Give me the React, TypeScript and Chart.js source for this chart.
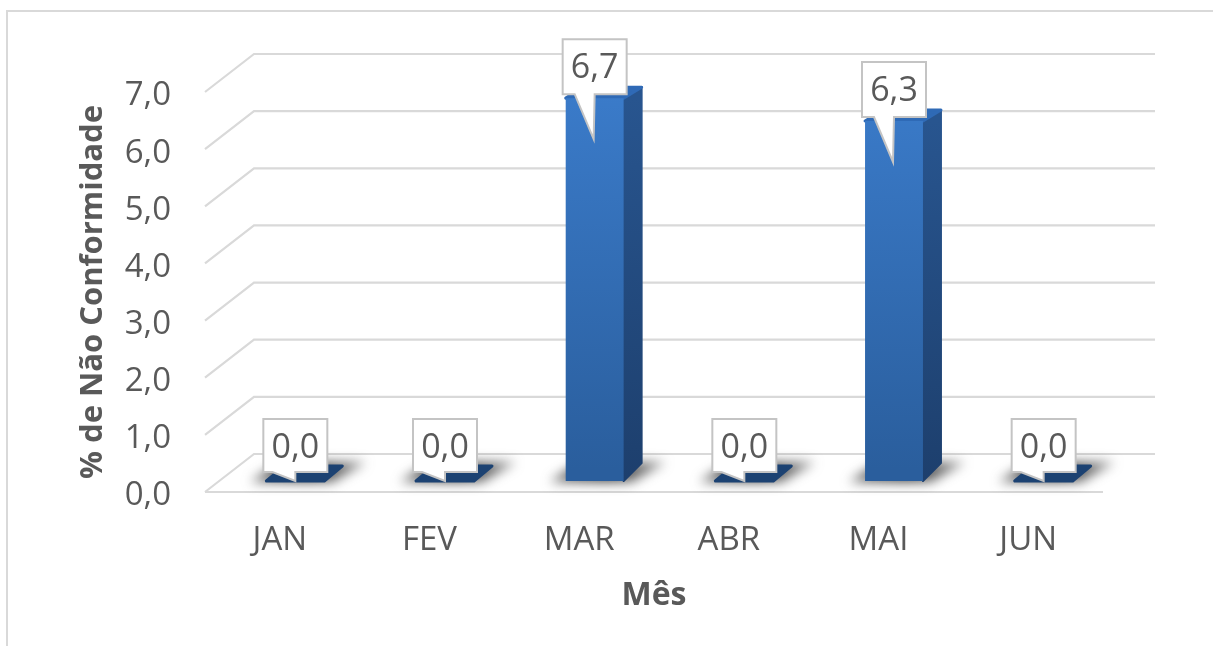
import React, { useEffect, useRef } from "react";
import { Chart, registerables } from "chart.js";

Chart.register(...registerables);

const categories = ["JAN", "FEV", "MAR", "ABR", "MAI", "JUN"];
const values = [0.0, 0.0, 6.7, 0.0, 6.3, 0.0];
const yTitle = "% de Não Conformidade";
const xTitle = "Mês";

const FONT = "'Open Sans', 'Noto Sans', sans-serif";
const TEXT = "#595959";
const GRID = "#d9d9d9";
const fmt = (v: number) => v.toFixed(1).replace(".", ",");

const SHIFT_X = 15.5;
const SHIFT_Y = -11;
const DEPTH_X = 18;

const poly = (ctx: CanvasRenderingContext2D, pts: number[][]) => {
  ctx.beginPath();
  pts.forEach(([x, y], i) => (i ? ctx.lineTo(x, y) : ctx.moveTo(x, y)));
  ctx.closePath();
};

const frame3d = {
  id: "frame3d",
  beforeDatasetsDraw(chart: any) {
    const { ctx, scales } = chart;
    const y = scales.y;
    const left = scales.x.left;
    const right = scales.x.right;
    ctx.save();
    ctx.strokeStyle = GRID;
    ctx.lineWidth = 2;
    ctx.beginPath();
    ctx.moveTo(7, 646);
    ctx.lineTo(7, 11);
    ctx.lineTo(1213, 11);
    ctx.stroke();
    ctx.lineWidth = 2.2;
    y.ticks.forEach((t: any) => {
      const py = y.getPixelForValue(t.value);
      ctx.beginPath();
      ctx.moveTo(left, py);
      ctx.lineTo(left + 49, py - 38);
      ctx.lineTo(right + 52, py - 38);
      ctx.stroke();
    });
    const y0 = y.getPixelForValue(0);
    ctx.beginPath();
    ctx.moveTo(left, y0);
    ctx.lineTo(right, y0);
    ctx.stroke();
    ctx.restore();
  },
};

const bars3d = {
  id: "bars3d",
  beforeDatasetDraw(chart: any) {
    const { ctx } = chart;
    const meta = chart.getDatasetMeta(0);
    ctx.save();
    meta.data.forEach((bar: any, i: number) => {
      const half = bar.width / 2;
      const l = bar.x + SHIFT_X - half;
      const r = bar.x + SHIFT_X + half;
      const base = bar.base + SHIFT_Y;
      const top = bar.y + SHIFT_Y;
      const flat = values[i] === 0;
      const dyTop = flat ? -15 : -11;
      const dyBase = flat ? -15 : -18;

      ctx.save();
      ctx.filter = "blur(6px)";
      const sh = ctx.createLinearGradient(l - 20, 0, r + 44, 0);
      sh.addColorStop(0, "rgba(70,70,70,0.75)");
      sh.addColorStop(0.5, "rgba(40,40,40,0.9)");
      sh.addColorStop(1, "rgba(90,90,90,0.65)");
      ctx.fillStyle = sh;
      poly(ctx, [
        [l - 16, base + 1],
        [r + 8, base + 1],
        [r + 42, base - 19],
        [l + 14, base - 19],
      ]);
      ctx.fill();
      ctx.restore();

      ctx.lineJoin = "round";
      if (!flat) {
        const side = ctx.createLinearGradient(0, top, 0, base);
        side.addColorStop(0, "#28558f");
        side.addColorStop(1, "#1d3f6d");
        ctx.fillStyle = side;
        ctx.strokeStyle = side;
        ctx.lineWidth = 2;
        poly(ctx, [
          [r, base],
          [r, top],
          [r + DEPTH_X, top + dyTop],
          [r + DEPTH_X, base + dyBase],
        ]);
        ctx.fill();
        ctx.stroke();
      }
      ctx.fillStyle = flat ? "#1c4272" : "#2f6ab6";
      ctx.strokeStyle = ctx.fillStyle;
      ctx.lineWidth = 3;
      poly(ctx, [
        [l, top],
        [r, top],
        [r + DEPTH_X, top + dyTop],
        [l + DEPTH_X, top + dyTop],
      ]);
      ctx.fill();
      ctx.stroke();
    });
    ctx.restore();
    ctx.save();
    ctx.translate(SHIFT_X, SHIFT_Y);
  },
  afterDatasetDraw(chart: any) {
    chart.ctx.restore();
  },
  afterDatasetsDraw(chart: any) {
    const { ctx } = chart;
    const meta = chart.getDatasetMeta(0);
    ctx.save();
    meta.data.forEach((bar: any, i: number) => {
      const cx = bar.x + SHIFT_X;
      const top = bar.y + SHIFT_Y;
      const flat = values[i] === 0;
      const bl = cx - 32;
      const br = cx + 32;
      const bt = top - (flat ? 62 : 59);
      const bb = bt + (flat ? 53 : 55);
      const tipY = flat ? top : top + 41;
      ctx.fillStyle = "#ffffff";
      ctx.strokeStyle = "#c4c4c4";
      ctx.lineWidth = 2;
      ctx.lineJoin = "miter";
      poly(ctx, [
        [bl, bt],
        [br, bt],
        [br, bb],
        [cx, bb],
        [cx + (flat ? 0 : -1), tipY],
        [cx - (flat ? 23 : 20), bb],
        [bl, bb],
      ]);
      ctx.fill();
      ctx.stroke();
      ctx.fillStyle = TEXT;
      ctx.font = `34px ${FONT}`;
      ctx.textAlign = "center";
      ctx.textBaseline = "middle";
      ctx.fillText(fmt(values[i]), cx, bt + 29);
    });
    ctx.restore();
  },
};

export default function App() {
  const ref = useRef<HTMLCanvasElement>(null);
  useEffect(() => {
    const chart = new Chart(ref.current!, {
      type: "bar",
      data: {
        labels: categories,
        datasets: [
          {
            data: values,
            clip: false,
            categoryPercentage: 1,
            barPercentage: 0.387,
            borderWidth: 0,
            backgroundColor: (c: any) => {
              const g = c.chart.ctx.createLinearGradient(0, 90, 0, 480);
              g.addColorStop(0, "#3b7ccb");
              g.addColorStop(1, "#2a5e9d");
              return g;
            },
          } as any,
        ],
      },
      options: {
        animation: false,
        responsive: false,
        devicePixelRatio: 1,
        layout: { padding: { left: 0, right: 110, top: 92, bottom: 0 } },
        plugins: { legend: { display: false }, tooltip: { enabled: false } },
        scales: {
          x: {
            afterFit: (s: any) => {
              s.height = 154;
            },
            grid: { display: false, drawTicks: false },
            border: { display: false },
            ticks: {
              color: TEXT,
              font: { family: FONT, size: 33 },
              padding: 29,
              maxRotation: 0,
            },
            title: {
              display: true,
              text: xTitle,
              color: TEXT,
              font: { family: FONT, size: 32, weight: "bold" },
              padding: { top: 0, bottom: 31 },
            },
          },
          y: {
            min: 0,
            max: 7,
            afterFit: (s: any) => {
              s.width = 205;
            },
            grid: { display: false, drawTicks: false },
            border: { display: false },
            ticks: {
              stepSize: 1,
              color: TEXT,
              font: { family: FONT, size: 33 },
              padding: 34,
              labelOffset: 4,
              callback: (v: any) => fmt(Number(v)),
            },
            title: {
              display: true,
              text: yTitle,
              color: TEXT,
              font: { family: FONT, size: 31, weight: "bold" },
              padding: { top: 75, bottom: 0 },
            },
          },
        },
      },
      plugins: [frame3d, bars3d],
    } as any);
    return () => chart.destroy();
  }, []);
  return (
    <div style={{ position: "fixed", left: 0, top: 0, width: 1213, height: 646, background: "#fff" }}>
      <canvas ref={ref} width={1213} height={646} style={{ display: "block" }} />
    </div>
  );
}
